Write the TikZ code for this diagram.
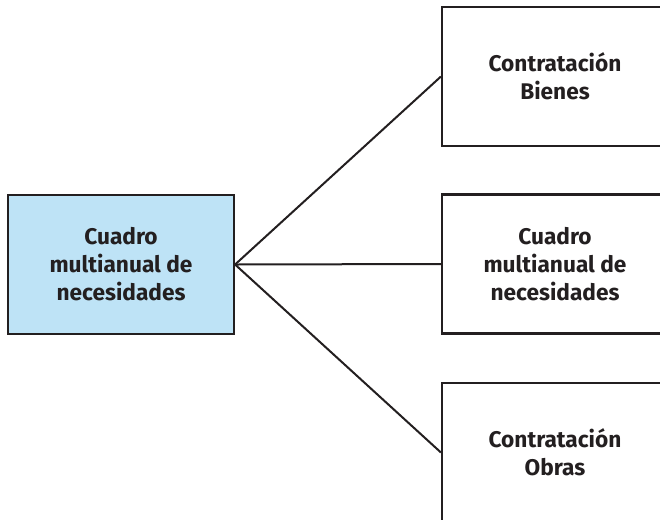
\documentclass[tikz,border=0pt]{standalone}
\usepackage{fontspec}
\setmainfont{Fira Sans}
\definecolor{boxblue}{HTML}{BEE3F6}
\definecolor{ink}{HTML}{231F20}
\begin{document}
\begin{tikzpicture}[x=0.75pt,y=-0.75pt,
  box/.style={draw=ink,line width=1.6pt,rectangle,minimum width=226*0.75pt,minimum height=139*0.75pt,
    align=center,text=ink,font=\fontsize{17}{21}\selectfont\bfseries,inner sep=0pt},
  link/.style={draw=ink,line width=1.5pt}]
\useasboundingbox (0,0) rectangle (660,519);
\clip (0,0) rectangle (660,519);
\node[box,fill=boxblue] (src) at (121,264.5) {Cuadro\\multianual de\\necesidades};
\node[box] (bienes) at (555,76.5) {Contratación\\Bienes};
\node[box] (cuadro) at (555,264) {Cuadro\\multianual de\\necesidades};
\node[box] (obras) at (555,452.5) {Contratación\\Obras};
\draw[link] (src.east) -- (bienes.west);
\draw[link] (src.east) -- (cuadro.west);
\draw[link] (src.east) -- (obras.west);
\end{tikzpicture}
\end{document}
